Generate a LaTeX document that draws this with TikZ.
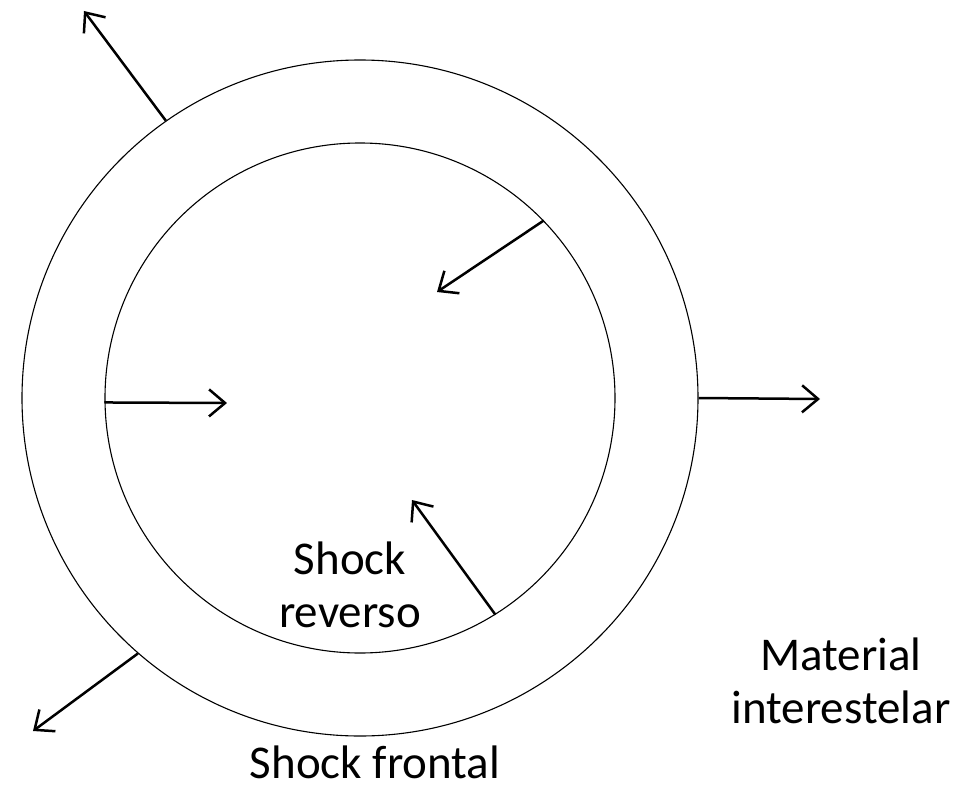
\documentclass[tikz,border=0pt]{standalone}
\usepackage{fontspec}
\setmainfont{Carlito}
\usetikzlibrary{arrows.meta,positioning}

\begin{document}
\begin{tikzpicture}[x=1pt,y=1pt,
    shell/.style={draw,circle,line width=1.1pt,inner sep=0pt},
    arr/.style={line width=2.5pt,-{Straight Barb[length=16pt,width=27pt,line width=2.5pt]}},
    lbl/.style={font=\fontsize{47}{53}\selectfont,align=center,inner sep=0pt}]
  \useasboundingbox (-360,-390) rectangle (613,398);
  % shells
  \node[shell,minimum size=676pt] (outer) at (0,0) {};
  \node[shell,minimum size=510pt] (inner) at (0,0) {};
  % free ends of the arrows
  \coordinate (tipNW) at (-276,387);
  \coordinate (tipIn) at (77,106);
  \coordinate (tipE) at (460,-1);
  \coordinate (tipW) at (-133,-5);
  \coordinate (tipS) at (52,-102);
  \coordinate (tipSW) at (-327,-333);
  \draw[arr] (outer.125.65) -- (tipNW);
  \draw[arr] (inner.44.7) -- (tipIn);
  \draw[arr] (outer.-0.2) -- (tipE);
  \draw[arr] (inner.181) -- (tipW);
  \draw[arr] (inner.-58.7) -- (tipS);
  \draw[arr] (outer.229.3) -- (tipSW);
  % labels
  \node[lbl] (rev) at (-10,-187) {Shock\\reverso};
  \node[lbl] (ism) at (481,-283) {Material\\interestelar};
  \node[lbl] (front) at (15,-364) {Shock frontal};
\end{tikzpicture}
\end{document}
